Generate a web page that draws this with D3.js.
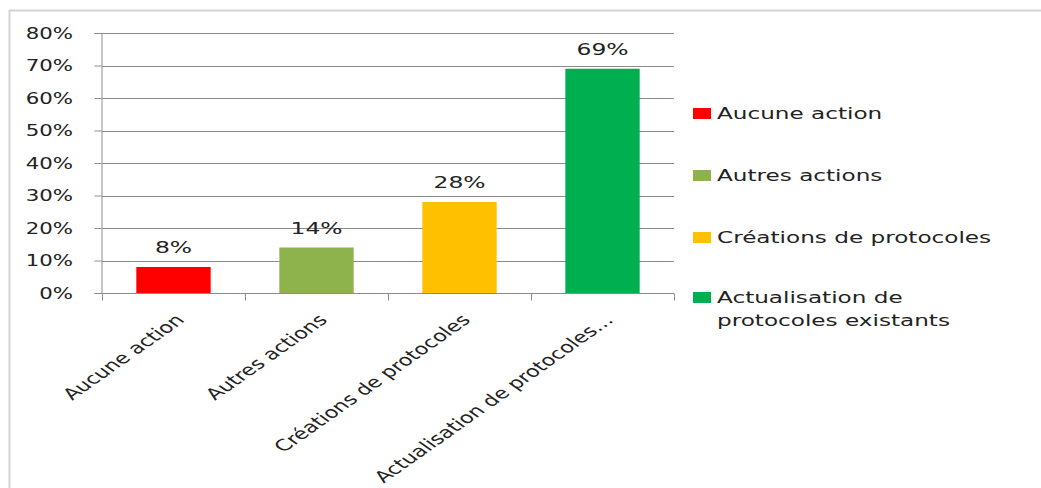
<!DOCTYPE html>
<html>
<head>
<meta charset="utf-8">
<script src="https://cdn.jsdelivr.net/npm/d3@7"></script>
<style>
  html, body { margin: 0; padding: 0; background: #fff; }
  svg { display: block; }
  text { font-family: "DejaVu Sans", Verdana, sans-serif; fill: #222; }
</style>
</head>
<body>
<svg id="chart" width="1041" height="488"></svg>
<script>
// Share of respondents by type of action taken
const categories = ["Aucune action", "Autres actions", "Créations de protocoles", "Actualisation de protocoles existants"];
const axisLabels = ["Aucune action", "Autres actions", "Créations de protocoles", "Actualisation de protocoles…"];
const legendLines = [["Aucune action"], ["Autres actions"], ["Créations de protocoles"], ["Actualisation de", "protocoles existants"]];
const values = [0.08, 0.14, 0.28, 0.69];
const colors = ["#ff0000", "#8fb34c", "#ffc000", "#00b050"];
const yTicks = [0, 0.1, 0.2, 0.3, 0.4, 0.5, 0.6, 0.7, 0.8];

// the whole figure is drawn wide: text gets the same horizontal stretch
const SX = 1.42;

const svg = d3.select("#chart");

// light frame (top and left edges)
svg.append("line").attr("x1", 9).attr("x2", 1041).attr("y1", 10.5).attr("y2", 10.5)
  .attr("stroke", "#d4d4d4").attr("stroke-width", 2);
svg.append("line").attr("x1", 9.5).attr("x2", 9.5).attr("y1", 10).attr("y2", 488)
  .attr("stroke", "#d4d4d4").attr("stroke-width", 2);

const x = d3.scaleBand().domain(categories).range([102, 674]).paddingInner(0.48).paddingOuter(0.24);
const y = d3.scaleLinear().domain([0, 0.8]).range([293, 33]);
const pct = d3.format(".0%");

// gridlines
svg.append("g").selectAll("line").data(yTicks.filter(d => d > 0)).join("line")
  .attr("x1", 102).attr("x2", 674)
  .attr("y1", d => Math.round(y(d)) + 0.5).attr("y2", d => Math.round(y(d)) + 0.5)
  .attr("stroke", "#8c8c8c").attr("stroke-width", 1);

// y axis line and ticks
const yAxis = svg.append("g").attr("transform", "translate(101.5,0)")
  .call(d3.axisLeft(y).tickValues(yTicks).tickFormat("").tickSize(7));
yAxis.select(".domain").attr("stroke", "#8c8c8c");
yAxis.selectAll(".tick line").attr("stroke", "#8c8c8c");

// y tick labels
svg.append("g").selectAll("text").data(yTicks).join("text")
  .attr("transform", d => `translate(73,${y(d) + 5.5}) scale(${SX},1)`)
  .attr("text-anchor", "end").attr("font-size", 15)
  .text(d => pct(d));

// bars
svg.append("g").selectAll("rect").data(categories).join("rect")
  .attr("x", d => x(d)).attr("width", x.bandwidth())
  .attr("y", (d, i) => y(values[i])).attr("height", (d, i) => y(0) - y(values[i]))
  .attr("fill", (d, i) => colors[i]);

// x axis with ticks at category boundaries
const base = svg.append("g").attr("transform", "translate(0,293.5)");
base.append("line").attr("x1", 95).attr("x2", 674).attr("stroke", "#8c8c8c");
const bounds = [0, 1, 2, 3, 4].map(i => 102 + i * x.step());
base.selectAll(".tk").data(bounds).join("line").attr("class", "tk")
  .attr("x1", d => Math.round(d) + 0.5).attr("x2", d => Math.round(d) + 0.5)
  .attr("y1", 0).attr("y2", 7).attr("stroke", "#8c8c8c");

// rotated category labels
svg.append("g").selectAll("text").data(categories).join("text")
  .attr("transform", d => `translate(${x(d) + x.bandwidth() / 2 + 12},321) scale(${SX},1) rotate(-45)`)
  .attr("text-anchor", "end")
  .attr("font-size", 15.8)
  .text((d, i) => axisLabels[i]);

// value labels
svg.append("g").selectAll("text").data(categories).join("text")
  .attr("transform", (d, i) => `translate(${x(d) + x.bandwidth() / 2},${y(values[i]) - 14}) scale(${SX},1)`)
  .attr("text-anchor", "middle")
  .attr("font-size", 16.5)
  .text((d, i) => pct(values[i]));

// legend
const legendBase = [119, 181, 243, 303];
const lg = svg.append("g").selectAll("g").data(categories).join("g")
  .attr("transform", (d, i) => `translate(693,${legendBase[i]})`);
lg.append("rect").attr("x", 0).attr("y", -11).attr("width", 18).attr("height", 11)
  .attr("fill", (d, i) => colors[i]);
lg.each(function (d, i) {
  const t = d3.select(this).append("text")
    .attr("transform", `translate(24,0) scale(${SX},1)`)
    .attr("font-size", 16.3);
  legendLines[i].forEach((line, j) => {
    t.append("tspan").attr("x", 0).attr("dy", j === 0 ? 0 : 23).text(line);
  });
});
</script>
</body>
</html>
